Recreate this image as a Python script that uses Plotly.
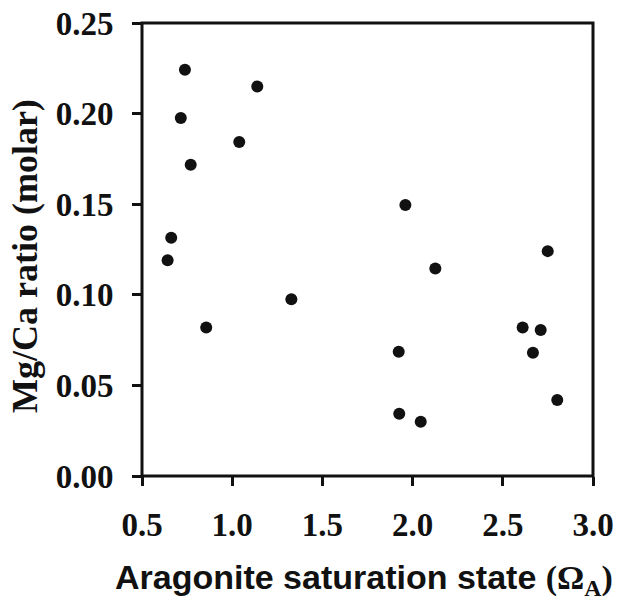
import plotly.graph_objects as go

omega_a = [0.738, 1.139, 0.715, 1.039, 0.770, 0.662, 0.642, 1.328, 0.856,
           1.960, 2.749, 2.126, 2.610, 2.710, 1.923, 2.667, 2.802, 1.926, 2.045]
mg_ca = [0.2242, 0.2150, 0.1976, 0.1843, 0.1718, 0.1315, 0.1191, 0.0975, 0.0819,
         0.1495, 0.1241, 0.1145, 0.0820, 0.0806, 0.0686, 0.0680, 0.0420, 0.0343, 0.0300]

x_ticks = [0.5, 1.0, 1.5, 2.0, 2.5, 3.0]
x_ticklabels = ["0.5", "1.0", "1.5", "2.0", "2.5", "3.0"]
y_ticks = [0.00, 0.05, 0.10, 0.15, 0.20, 0.25]
y_ticklabels = ["0.00", "0.05", "0.10", "0.15", "0.20", "0.25"]

x_title = ("<b>Aragonite saturation state </b>"
           "<span style='font-family:Liberation Serif'><b>(Ω<sub>A</sub>)</b></span>")
y_title = "<b>Mg/Ca ratio (molar)</b>"

fig = go.Figure()
fig.add_trace(go.Scatter(
    x=omega_a, y=mg_ca, mode="markers",
    marker=dict(size=12, color="#111111"),
    showlegend=False, cliponaxis=False,
))

serif = "Liberation Serif"
fig.update_layout(
    width=632, height=613,
    margin=dict(l=134, r=47, t=15, b=145),
    paper_bgcolor="white", plot_bgcolor="white",
    font=dict(family=serif, color="#111111"),
)
axis_common = dict(
    showgrid=False, zeroline=False, showline=False,
    ticks="outside", ticklen=9, tickwidth=3, tickcolor="#111111",
    tickfont=dict(family=serif, size=33, color="#111111", weight="bold"),
    automargin=False, ticklabeloverflow="allow",
)
fig.update_xaxes(range=[0.5, 3.0], tickmode="array", tickvals=x_ticks,
                 ticktext=x_ticklabels, ticklabelstandoff=10, **axis_common)
fig.update_yaxes(range=[0.0, 0.25], tickmode="array", tickvals=y_ticks,
                 ticktext=y_ticklabels, ticklabelstandoff=12, **axis_common)

# plot frame
fig.add_shape(type="rect", xref="paper", yref="paper", x0=0, x1=1, y0=0, y1=1,
              line=dict(color="#111111", width=3), layer="above")

fig.add_annotation(
    text=x_title, xref="paper", yref="paper", x=0.492, y=-0.2285,
    xanchor="center", yanchor="middle", showarrow=False,
    font=dict(family="Liberation Sans", size=34, color="#111111"),
)
fig.add_annotation(
    text=y_title, xref="paper", yref="paper", x=-0.259, y=0.486,
    xanchor="center", yanchor="middle", textangle=-90, showarrow=False,
    font=dict(family=serif, size=36, color="#111111"),
)

fig.write_html("out.html")
